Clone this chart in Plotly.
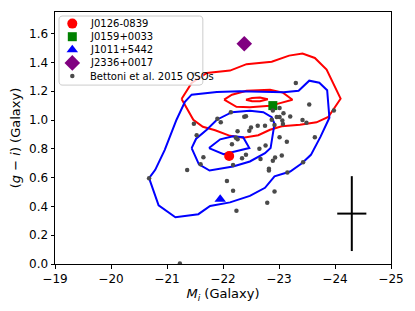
import math
import plotly.graph_objects as go

# ---- data ----
qso_names = ["J0126-0839", "J0159+0033", "J1011+5442", "J2336+0017"]
qso_Mi = [-22.11, -22.89, -21.95, -22.38]
qso_gi = [0.75, 1.10, 0.45, 1.53]
qso_colors = ["#ff0000", "#008000", "#0000ff", "#800080"]
qso_symbols = ["circle", "square", "triangle-up", "diamond"]
qso_sizes = [10, 9, 10, 12]

bettoni_name = "Bettoni et al. 2015 QSOs"
bettoni_color = "#4a4a4a"
bettoni_Mi = [-21.48, -21.48, -21.90, -21.96, -22.14, -22.38, -22.41, -22.26, -22.47, -22.62,
              -21.53, -22.23, -22.26, -22.16, -21.65, -21.60, -21.36, -22.18, -22.07, -22.18,
              -22.24, -20.68, -21.23, -22.34, -22.41, -22.65, -23.30, -23.54, -23.98, -22.89,
              -23.01, -23.08, -23.20, -23.01, -22.96, -23.06, -23.07, -22.87, -23.42, -23.49,
              -22.75, -22.92, -22.50, -23.01, -23.14, -23.64, -22.76, -22.67, -22.93, -22.89,
              -23.05, -22.82, -22.82, -23.15, -23.43, -22.92, -22.79]
bettoni_gi = [1.32, 0.974, 1.009, 0.984, 1.054, 1.023, 1.026, 0.922, 0.925, 0.960,
              0.894, 0.877, 0.866, 0.831, 0.742, 0.692, 0.652, 0.687, 0.577, 0.508,
              0.369, 0.596, 0.003, 0.734, 0.758, 0.800, 1.257, 1.108, 1.066, 1.066,
              1.083, 1.047, 1.025, 1.021, 1.021, 0.997, 0.972, 1.002, 1.000, 0.981,
              0.960, 0.965, 0.948, 0.880, 0.849, 0.881, 0.823, 0.730, 0.739, 0.717,
              0.753, 0.661, 0.649, 0.635, 0.707, 0.504, 0.426]

red_outer_Mi = [-21.26, -21.44, -21.71, -22.125, -22.42, -22.87, -23.18, -23.42, -23.64, -23.85,
                -24.10, -23.88, -23.67, -23.375, -23.05, -22.84, -22.63, -22.36, -22.125, -21.86,
                -21.64, -21.47, -21.26]
red_outer_gi = [1.146, 1.257, 1.327, 1.343, 1.388, 1.405, 1.447, 1.461, 1.431, 1.350,
                1.148, 1.021, 0.984, 0.967, 0.957, 0.932, 0.894, 0.877, 0.890, 0.929,
                0.953, 1.002, 1.146]
red_mid_Mi = [-22.02, -22.16, -22.42, -22.84, -23.07, -23.24, -23.02, -22.84, -22.48, -22.24, -22.02]
red_mid_gi = [1.141, 1.176, 1.203, 1.210, 1.190, 1.141, 1.117, 1.099, 1.089, 1.092, 1.141]
red_in_Mi = [-22.41, -22.52, -22.66, -22.80, -22.66, -22.52, -22.41]
red_in_gi = [1.141, 1.153, 1.156, 1.144, 1.130, 1.130, 1.141]

blue_outer_Mi = [-20.68, -20.79, -20.96, -21.17, -21.32, -21.44, -21.89, -22.30, -23.08, -23.35,
                 -23.54, -23.72, -23.86, -23.90, -23.74, -23.57, -23.41, -23.20, -22.92, -22.75,
                 -22.48, -22.125, -21.77, -21.56, -21.15, -20.85, -20.68]
blue_outer_gi = [0.596, 0.654, 0.793, 1.002, 1.127, 1.176, 1.194, 1.199, 1.193, 1.203,
                 1.273, 1.259, 1.207, 1.016, 0.883, 0.758, 0.699, 0.642, 0.609, 0.529,
                 0.473, 0.428, 0.403, 0.346, 0.325, 0.407, 0.596]
blue_mid_Mi = [-21.44, -21.52, -21.71, -21.89, -22.16, -22.48, -22.72, -22.87, -22.92, -22.88,
               -22.85, -22.75, -22.48, -22.18, -21.76, -21.57, -21.44]
blue_mid_gi = [0.805, 0.870, 0.932, 1.002, 1.054, 1.064, 1.054, 1.019, 0.974, 0.887,
               0.805, 0.770, 0.712, 0.677, 0.649, 0.692, 0.805]
blue_in_Mi = [-21.75, -21.95, -22.18, -22.36, -22.47, -22.24, -22.01, -21.75]
blue_in_gi = [0.805, 0.866, 0.887, 0.880, 0.805, 0.781, 0.762, 0.805]

err_Mi = [-24.3]
err_gi = [0.35]
err_dM = [0.26]
err_dg = [0.26]

x_ticks = [-19, -20, -21, -22, -23, -24, -25]
x_ticktext = ["−19", "−20", "−21", "−22", "−23", "−24", "−25"]
y_ticks = [0.0, 0.2, 0.4, 0.6, 0.8, 1.0, 1.2, 1.4, 1.6]
y_ticktext = ["0.0", "0.2", "0.4", "0.6", "0.8", "1.0", "1.2", "1.4", "1.6"]

# ---- layout geometry ----
W, H = 415, 311
ML, MR, MT, MB = 55, 24, 12, 47
PW, PH = W - ML - MR, H - MT - MB

fig = go.Figure()

for xs, ys, col in [(red_outer_Mi, red_outer_gi, "#ff0000"), (red_mid_Mi, red_mid_gi, "#ff0000"),
                    (red_in_Mi, red_in_gi, "#ff0000"), (blue_outer_Mi, blue_outer_gi, "#0000ff"),
                    (blue_mid_Mi, blue_mid_gi, "#0000ff"), (blue_in_Mi, blue_in_gi, "#0000ff")]:
    fig.add_trace(go.Scatter(x=xs, y=ys, mode="lines", line=dict(color=col, width=2),
                             showlegend=False, hoverinfo="skip"))

for n, x, y, c, s, sz in zip(qso_names, qso_Mi, qso_gi, qso_colors, qso_symbols, qso_sizes):
    fig.add_trace(go.Scatter(x=[x], y=[y], mode="markers", name=n, showlegend=False,
                             marker=dict(color=c, symbol=s, size=sz, line=dict(width=0))))

fig.add_trace(go.Scatter(x=bettoni_Mi, y=bettoni_gi, mode="markers", name=bettoni_name,
                         showlegend=False,
                         marker=dict(color=bettoni_color, size=4.5, line=dict(width=0))))

fig.add_trace(go.Scatter(x=err_Mi, y=err_gi, mode="markers", showlegend=False, hoverinfo="skip",
                         marker=dict(size=1, color="rgba(0,0,0,0)"),
                         error_x=dict(type="data", array=err_dM, color="black", thickness=2, width=0),
                         error_y=dict(type="data", array=err_dg, color="black", thickness=2, width=0)))

# ---- custom legend drawn on an overlay axis (axes-fraction coordinates) ----
bx0, bx1, by0, by1 = 0.012, 0.440, 0.710, 0.984
rad = 3.0
rx, ry = rad / PW, rad / PH
box_x, box_y = [], []
corners = [(bx1 - rx, by1 - ry, 0), (bx0 + rx, by1 - ry, 90), (bx0 + rx, by0 + ry, 180), (bx1 - rx, by0 + ry, 270)]
for cx, cy, a0 in corners:
    for k in range(7):
        a = math.radians(a0 + k * 15)
        box_x.append(cx + rx * math.cos(a))
        box_y.append(cy + ry * math.sin(a))
box_x.append(box_x[0]); box_y.append(box_y[0])
fig.add_trace(go.Scatter(x=box_x, y=box_y, xaxis="x2", yaxis="y2", mode="lines", fill="toself",
                         fillcolor="rgba(255,255,255,0.8)", line=dict(color="#cccccc", width=1),
                         showlegend=False, hoverinfo="skip"))

leg_names = qso_names + [bettoni_name]
leg_colors = qso_colors + [bettoni_color]
leg_symbols = qso_symbols + ["circle"]
leg_sizes = qso_sizes + [4.5]
row0, rstep = 0.954, 0.052
mk_x, tx_x = 0.0515, 0.099
for i, (n, c, s, sz) in enumerate(zip(leg_names, leg_colors, leg_symbols, leg_sizes)):
    yy = row0 - i * rstep
    fig.add_trace(go.Scatter(x=[mk_x], y=[yy], xaxis="x2", yaxis="y2", mode="markers",
                             marker=dict(color=c, symbol=s, size=sz, line=dict(width=0)),
                             showlegend=False, hoverinfo="skip"))
    fig.add_annotation(x=tx_x, y=yy, xref="x2", yref="y2", text=n, showarrow=False,
                       xanchor="left", yanchor="middle", font=dict(size=10, color="black"))

axis_common = dict(showgrid=False, zeroline=False, showline=True, linecolor="black", linewidth=1,
                   mirror=True, ticks="outside", ticklen=3.5, tickwidth=1, tickcolor="black",
                   tickfont=dict(size=12, color="black"), automargin=False)

fig.update_layout(
    width=W, height=H,
    margin=dict(l=ML, r=MR, t=MT, b=MB),
    paper_bgcolor="white", plot_bgcolor="white",
    font=dict(family="DejaVu Sans", size=12, color="black"),
    xaxis=dict(range=[-19, -25], tickvals=x_ticks, ticktext=x_ticktext,
               title=dict(text="<i>M</i><sub><i>i</i></sub> (Galaxy)", font=dict(size=13), standoff=3),
               **axis_common),
    yaxis=dict(range=[0, 1.75], tickvals=y_ticks, ticktext=y_ticktext,
               title=dict(text="(<i>g</i> − <i>i</i>) (Galaxy)", font=dict(size=13), standoff=5),
               **axis_common),
    xaxis2=dict(overlaying="x", range=[0, 1], visible=False, fixedrange=True),
    yaxis2=dict(overlaying="y", range=[0, 1], visible=False, fixedrange=True),
    showlegend=False,
)

fig.write_html("out.html", config={"displayModeBar": False},
               post_script="document.body.style.margin='0px';document.body.style.padding='0px';")
